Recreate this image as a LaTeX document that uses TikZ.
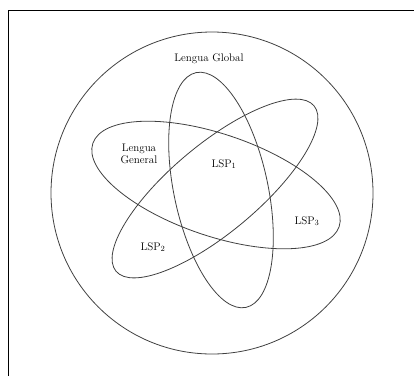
\documentclass[tikz,border=0pt]{standalone}
\usepackage{xcolor}
\definecolor{LineGray}{rgb}{0.25, 0.25, 0.25}

\begin{document}
\begin{tikzpicture}[x=1pt,y=1pt,yscale=-1,xscale=1]
		\tikzset{
			set/.style={draw=LineGray, line width=0.8pt},
			setlabel/.style={inner sep=0.75pt, font=\fontsize{11}{12.5}\selectfont, align=center}
		}
		% Fix the size of the picture to the reference (414 x 376)
		\useasboundingbox (0,0) rectangle (414,376);

		% Draw the frame (only the top and left sides are visible)
		\draw[black, line width=0.8pt] (8.5,376) -- (8.5,10.5) -- (414,10.5);

		% Draw the big circle round everything
		\draw[set] (212,193) circle [radius=161];

		% Draw the tilted vertical ellipse
		\draw[set, shift={(221,190)}, rotate=78] (0,0) ellipse [x radius=120, y radius=47];

		% Draw the ellipse going down to the right
		\draw[set, shift={(216,185)}, rotate=18.7] (0,0) ellipse [x radius=130, y radius=51];

		% Draw the ellipse going up to the right
		\draw[set, shift={(215,188.5)}, rotate=-39.9] (0,0) ellipse [x radius=129, y radius=44];

		% Labels of the sets
		\node[setlabel] (global) at (209,59) {Lengua Global};
		\node[setlabel] (general) at (139,154) {Lengua\\General};
		\node[setlabel] (lsp1) at (224,164) {LSP\(_1\)};
		\node[setlabel] (lsp2) at (153,247) {LSP\(_2\)};
		\node[setlabel] (lsp3) at (307,221) {LSP\(_3\)};
	\end{tikzpicture}
\end{document}
